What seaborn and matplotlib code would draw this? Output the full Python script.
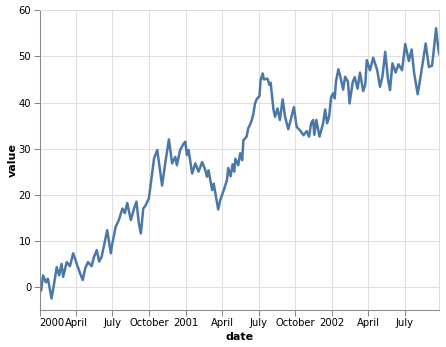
import matplotlib
matplotlib.use("Agg")
import matplotlib.pyplot as plt
import seaborn as sns
import pandas as pd
import numpy as np

# day offsets from 2000-01-01 and values
day_offsets = [0, 4, 9, 16, 21, 30, 36, 43, 49, 55, 59, 68, 76, 84, 91, 101, 108, 114,
               121, 130, 136, 143, 149, 155, 161, 169, 178, 182, 190, 198, 207, 213,
               219, 228, 236, 242, 248, 253, 259, 265, 273, 278, 286, 294, 301, 306,
               315, 323, 331, 339, 343, 351, 360, 364, 368, 372, 381, 389, 397, 406,
               414, 418, 422, 431, 435, 443, 446, 451, 460, 468, 471, 477, 482, 486,
               489, 496, 501, 506, 509, 517, 521, 525, 530, 534, 538, 542, 549, 552,
               557, 560, 569, 574, 577, 584, 588, 594, 600, 607, 613, 621, 627, 635,
               642, 650, 659, 667, 673, 678, 683, 686, 691, 699, 708, 713, 718, 723,
               728, 733, 737, 740, 746, 750, 758, 763, 770, 774, 782, 787, 794, 800,
               808, 813, 817, 825, 833, 843, 850, 856, 863, 870, 875, 881, 889, 896,
               905, 913, 922, 929, 935, 944, 952, 964, 972, 980, 990, 995, 998]
values = [0.0, -0.8, 2.5, 1.0, 1.8, -2.5, 0.5, 4.3, 2.5, 5.0, 2.2, 5.4, 4.5, 7.3, 5.5,
          3.0, 1.5, 4.0, 5.4, 4.5, 6.5, 8.0, 5.5, 6.5, 9.0, 12.3, 7.3, 9.5, 13.0, 14.5,
          17.0, 16.0, 18.2, 14.5, 17.0, 18.5, 13.8, 11.6, 17.0, 17.7, 19.2, 22.5, 27.9,
          29.7, 25.3, 22.0, 27.5, 32.0, 26.8, 28.2, 26.4, 29.7, 31.1, 31.5, 28.6, 29.7,
          24.6, 26.8, 25.0, 27.1, 25.3, 23.9, 25.3, 21.0, 22.4, 18.4, 16.8, 18.8, 21.0,
          23.2, 25.8, 24.0, 26.6, 25.0, 27.8, 26.4, 29.0, 27.5, 31.8, 32.6, 34.4, 35.1,
          36.2, 37.6, 39.8, 40.7, 41.4, 44.9, 46.3, 45.0, 45.2, 43.8, 44.3, 38.5, 36.9,
          38.7, 36.2, 40.7, 36.9, 34.2, 36.2, 39.0, 34.7, 34.0, 32.9, 33.8, 32.6, 35.5,
          36.2, 33.0, 36.2, 32.6, 35.5, 38.5, 35.5, 37.0, 41.2, 42.0, 40.9, 44.5, 47.2,
          46.0, 42.8, 45.6, 44.5, 39.8, 44.5, 45.5, 43.0, 46.5, 42.5, 43.8, 49.2, 47.0,
          49.7, 47.0, 43.4, 45.6, 51.0, 45.0, 42.7, 48.5, 46.5, 48.3, 47.0, 52.7, 49.0,
          51.5, 46.5, 41.8, 46.0, 52.8, 47.7, 48.0, 56.1, 52.0, 50.5]

tick_dates = ["2000-01-01", "2000-04-01", "2000-07-01", "2000-10-01", "2001-01-01",
              "2001-04-01", "2001-07-01", "2001-10-01", "2002-01-01", "2002-04-01",
              "2002-07-01"]
tick_labels = ["2000", "April", "July", "October", "2001", "April", "July", "October",
               "2002", "April", "July"]
y_ticks = [0, 10, 20, 30, 40, 50, 60]

start = pd.Timestamp("2000-01-01")
df = pd.DataFrame({"date": start + pd.to_timedelta(day_offsets, unit="D"),
                   "value": values})

plt.rcParams["font.family"] = ["DejaVu Sans"]
fig = plt.figure(figsize=(4.46, 3.47), dpi=100)
ax = fig.add_axes([39.5 / 446, 37 / 347, 399.8 / 446, 299.7 / 347])

sns.lineplot(data=df, x="date", y="value", ax=ax, color="#4c78a8", linewidth=1.8)

ax.set_xlim(df["date"].iloc[0], df["date"].iloc[-1])
ax.set_ylim(-5, 60)
ax.set_yticks(y_ticks)
ax.set_yticklabels([str(v) for v in y_ticks])
ax.set_xticks(pd.to_datetime(tick_dates))
ax.set_xticklabels(tick_labels)
for i, lab in enumerate(ax.get_xticklabels()):
    lab.set_horizontalalignment("left" if i == 0 else "center")

ax.grid(True, color="#e0e0e0", linewidth=0.75)
ax.set_axisbelow(True)
for side in ["top", "right"]:
    ax.spines[side].set_color("#dddddd")
    ax.spines[side].set_linewidth(0.75)
for side in ["left", "bottom"]:
    ax.spines[side].set_color("#888888")
    ax.spines[side].set_linewidth(0.75)
ax.tick_params(axis="both", colors="#888888", length=4, width=0.75,
               labelcolor="black", labelsize=7.2, pad=2)
ax.set_xlabel("date", fontsize=8, fontweight="bold")
ax.set_ylabel("value", fontsize=8, fontweight="bold")
ax.yaxis.set_label_coords((13 - 39.5) / 399.8, 0.5)
ax.xaxis.set_label_coords(0.5, (310 - 337) / 299.7)
ax.yaxis.label.set_verticalalignment("center")
ax.xaxis.label.set_verticalalignment("center")

fig.savefig("out.png", dpi=100)
